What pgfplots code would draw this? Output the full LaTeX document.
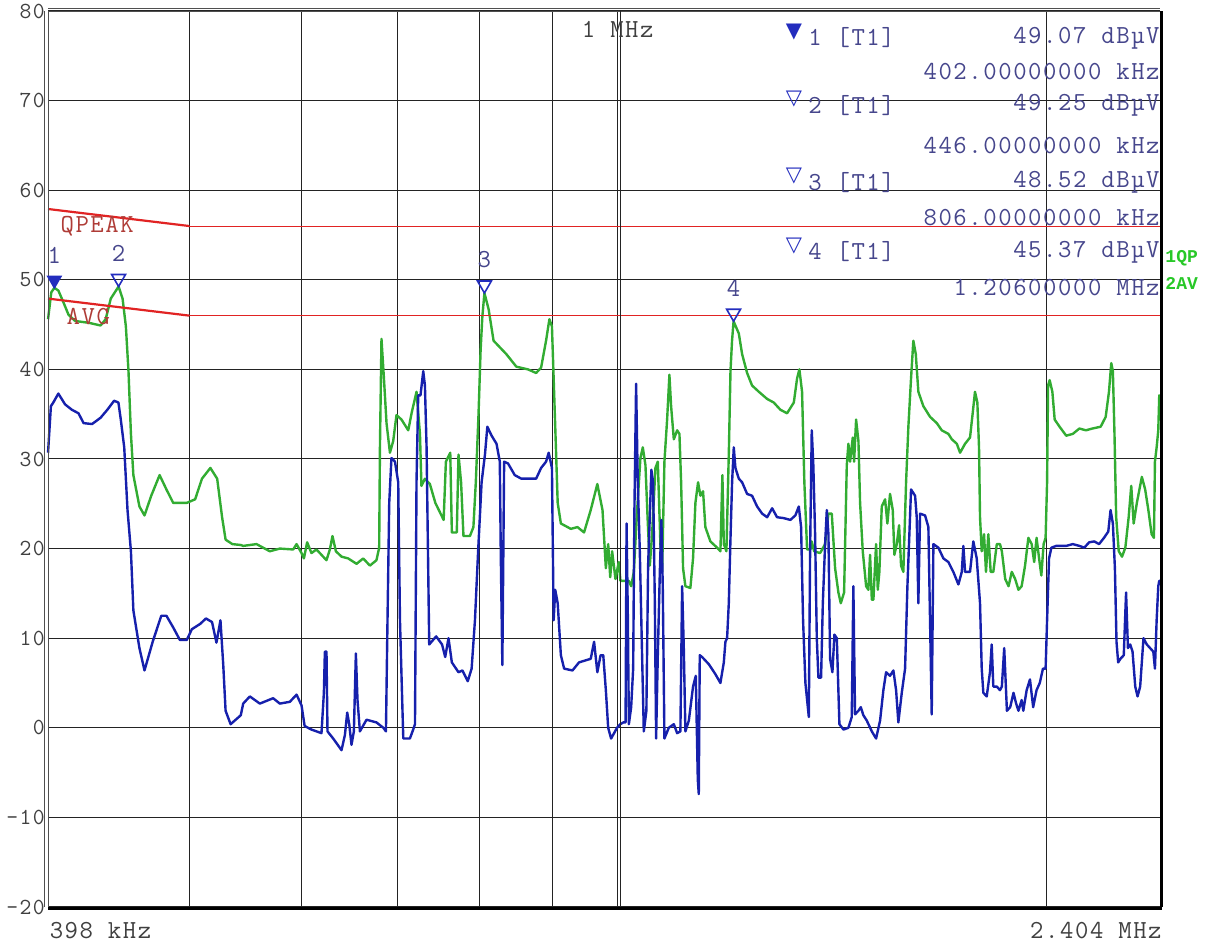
\documentclass[border=0pt]{standalone}
\usepackage{fontspec}
\usepackage{pgfplots}
\pgfplotsset{compat=1.18}
\usepackage{pgfplotstable}
\newfontfamily\cour[LetterSpace=6]{Latin Modern Mono}
\newfontfamily\lmono{Liberation Mono}
\newfontfamily\dvs{DejaVu Sans}
\newcommand{\mfont}{\cour\fontsize{13}{15}\selectfont}
\newcommand{\yfont}{\cour\fontsize{11.5}{13}\selectfont}
\definecolor{qp}{RGB}{50,172,50}
\definecolor{av}{RGB}{22,32,172}
\definecolor{lim}{RGB}{225,35,35}
\definecolor{lbl}{RGB}{175,60,55}
\definecolor{mk}{RGB}{35,45,190}
\definecolor{mtxt}{RGB}{70,70,140}
\definecolor{gridc}{RGB}{35,35,35}
\definecolor{trlbl}{RGB}{40,200,40}

\pgfplotstableread{
f db
398.0 45.6
400.0 48.6
402.0 49.1
404.6 48.8
407.9 47.5
411.3 46.1
415.8 45.4
425.0 45.2
433.2 44.9
436.8 45.6
440.4 47.9
446.0 49.25
448.9 47.9
451.3 44.8
453.2 39.8
455.0 32.8
456.8 28.2
461.3 24.7
465.1 23.7
470.2 25.9
476.6 28.2
481.9 26.6
487.2 25.1
498.0 25.1
504.8 25.5
510.4 27.8
517.4 29.0
523.1 27.8
527.3 23.5
530.3 21.0
536.1 20.5
543.5 20.4
545.6 20.3
557.5 20.5
569.6 19.7
578.9 20.0
591.6 19.9
594.8 20.5
599.6 19.5
601.9 18.9
605.1 20.7
609.3 19.5
614.3 19.9
619.3 19.3
624.3 18.7
627.7 19.9
630.4 21.4
633.9 19.7
639.7 19.1
646.6 18.9
655.4 18.3
662.5 18.9
669.7 18.1
676.9 18.7
679.9 20.1
680.7 31.3
682.4 43.4
685.1 39.0
688.0 34.0
691.8 30.7
695.5 32.0
699.2 34.9
704.9 34.4
712.6 33.2
716.4 35.1
722.2 37.5
726.2 32.8
728.0 27.0
732.1 27.8
738.0 27.2
744.5 25.1
754.6 23.2
757.4 29.7
762.7 30.7
764.7 21.8
770.9 21.8
772.9 30.5
776.2 27.4
779.2 21.4
787.5 21.4
791.8 22.4
795.0 27.4
798.5 35.1
801.0 42.1
803.3 45.9
806.0 48.52
811.5 46.7
818.0 43.2
835.1 41.7
848.7 40.3
864.8 40.0
876.3 39.6
883.4 40.2
890.5 43.2
895.3 45.6
899.0 44.8
901.5 39.0
903.8 33.6
907.4 25.1
912.1 22.8
926.9 22.2
936.9 22.4
946.9 21.8
957.2 24.3
967.5 27.2
975.6 24.3
980.9 17.8
984.6 20.5
987.9 16.8
990.9 19.7
996.3 16.6
1001.6 18.5
1004.3 16.4
1012.7 16.4
1018.1 16.4
1021.9 15.8
1026.3 17.4
1031.8 24.3
1037.3 30.1
1041.3 31.3
1045.8 29.3
1049.8 22.8
1053.2 18.1
1057.1 21.6
1062.8 29.0
1066.9 29.7
1071.4 20.5
1074.4 17.4
1078.4 29.7
1083.1 34.4
1087.1 39.4
1090.1 35.9
1094.9 32.2
1100.8 33.2
1104.9 32.8
1107.9 27.4
1111.4 17.8
1115.6 15.8
1124.6 15.6
1129.5 18.9
1133.8 25.1
1138.7 27.4
1143.0 25.9
1147.9 26.4
1152.2 22.4
1161.6 20.8
1174.3 20.1
1180.6 19.7
1184.4 28.2
1187.1 20.5
1192.1 19.7
1197.0 31.3
1200.0 39.8
1203.0 43.2
1206.0 45.37
1216.3 44.0
1222.8 41.7
1232.7 39.6
1242.6 38.2
1256.3 37.5
1273.3 36.7
1287.0 36.3
1300.8 35.5
1315.0 35.1
1329.4 36.3
1336.5 39.0
1341.5 40.0
1347.3 37.5
1352.3 27.4
1358.3 19.9
1365.6 19.9
1368.6 20.8
1373.8 19.7
1387.2 19.5
1398.5 20.5
1406.0 23.9
1413.7 23.9
1421.3 17.8
1428.9 15.1
1434.4 13.9
1442.1 15.1
1448.4 29.3
1452.2 31.7
1456.1 29.7
1462.5 32.4
1465.6 29.7
1470.4 34.4
1475.9 32.0
1479.9 25.1
1486.3 19.7
1494.4 15.8
1499.9 15.4
1504.0 19.3
1508.2 14.3
1512.1 14.3
1518.7 20.5
1522.9 15.4
1526.8 17.4
1532.7 24.7
1541.0 25.5
1546.7 22.8
1553.4 26.1
1560.3 24.3
1564.3 19.3
1570.4 20.5
1576.3 22.6
1581.3 18.1
1587.2 17.4
1594.2 27.4
1600.1 33.6
1607.1 39.0
1613.1 43.2
1619.4 41.7
1626.2 37.5
1639.4 35.9
1657.3 34.7
1675.4 34.0
1688.9 33.2
1707.1 32.8
1716.5 32.2
1730.5 31.7
1739.7 30.7
1753.9 31.7
1768.0 32.4
1775.6 35.1
1782.2 37.5
1789.0 36.3
1793.9 31.3
1796.8 23.5
1801.7 19.7
1808.5 21.6
1814.4 17.4
1821.1 21.6
1828.1 17.4
1835.9 17.4
1846.1 20.5
1855.9 20.5
1861.6 19.7
1871.6 16.6
1881.7 15.8
1891.7 17.4
1902.0 16.6
1912.0 15.4
1922.1 15.8
1932.6 18.1
1943.0 21.2
1953.3 20.5
1961.5 18.5
1968.8 21.2
1977.0 18.9
1984.3 17.0
1991.6 20.5
1998.0 21.2
2002.5 27.4
2005.7 38.2
2010.9 38.8
2019.7 37.5
2027.3 34.4
2043.4 33.6
2065.4 32.6
2087.6 32.8
2110.0 33.4
2132.3 33.2
2155.0 33.4
2183.8 33.6
2201.6 34.7
2213.4 37.5
2221.6 40.7
2227.4 39.8
2233.2 32.8
2239.3 23.5
2248.7 19.7
2260.6 19.1
2272.8 20.1
2285.0 23.5
2294.6 27.0
2303.6 22.8
2315.5 25.1
2334.2 28.0
2346.8 26.6
2359.0 24.3
2371.5 21.6
2380.4 21.2
2384.2 29.7
2390.8 31.3
2397.1 33.2
2400.9 37.1
2404.0 37.0
}\qpdata

\pgfplotstableread{
f db
398.0 30.7
399.8 35.9
401.3 36.3
404.6 37.3
409.0 36.1
413.5 35.5
418.0 35.1
421.5 34.0
427.3 33.9
433.2 34.6
438.0 35.5
442.8 36.5
445.9 36.3
447.6 34.4
450.1 31.3
452.5 24.3
455.0 19.7
456.8 13.1
461.3 8.9
465.1 6.4
471.5 9.7
477.9 12.5
481.9 12.5
487.2 11.2
492.5 9.8
498.0 9.8
502.1 11.0
509.0 11.6
513.7 12.2
518.8 11.8
522.5 9.5
525.9 12.0
528.3 7.0
530.3 1.9
534.6 0.4
543.5 1.4
545.6 2.7
551.5 3.5
560.5 2.7
572.7 3.3
578.9 2.7
588.4 2.9
594.8 3.7
599.6 2.5
602.6 0.2
609.3 -0.2
619.3 -0.6
621.7 3.9
622.7 8.5
624.3 8.5
625.3 -0.4
631.1 -1.2
639.7 -2.5
643.2 -0.8
645.6 1.7
647.7 0.4
650.1 -1.9
652.6 -0.4
654.7 8.3
656.4 3.1
659.0 -0.4
666.1 0.9
676.9 0.6
684.4 0.0
687.3 -0.4
688.8 10.0
691.0 25.1
693.5 30.1
697.4 29.7
701.1 27.4
703.1 12.0
706.0 1.9
706.9 -1.2
714.5 -1.2
717.6 -0.4
720.4 0.4
722.2 27.4
724.2 37.1
726.8 37.1
730.1 39.8
732.1 38.2
734.1 31.3
737.2 9.3
745.5 10.2
752.6 9.3
756.5 7.9
760.6 10.0
764.7 7.3
772.9 6.2
777.9 6.4
784.6 5.2
789.6 6.6
793.8 12.0
798.0 19.7
802.3 27.4
806.7 30.5
809.8 33.6
815.4 32.6
821.9 31.7
826.3 29.7
827.6 19.3
829.7 7.0
832.1 29.7
837.4 29.5
846.5 28.2
855.6 27.8
864.8 27.8
876.3 27.8
883.4 29.0
890.5 29.7
894.3 30.7
899.0 29.0
901.5 12.0
903.8 15.4
907.4 13.9
912.1 8.1
916.9 6.6
929.4 6.4
939.3 7.3
957.2 7.7
962.4 9.6
967.5 6.2
972.6 8.1
976.8 8.1
980.9 4.2
984.6 0.0
989.3 -1.2
998.8 0.0
1004.1 0.4
1009.1 0.6
1012.7 0.6
1014.3 22.8
1016.5 12.0
1018.1 0.4
1021.9 2.3
1025.2 6.6
1027.3 24.3
1030.1 38.4
1032.9 27.4
1036.3 19.7
1040.1 8.1
1043.0 -0.4
1047.4 1.9
1050.3 18.1
1053.2 23.6
1055.9 28.8
1058.8 27.4
1061.8 13.9
1064.0 -1.2
1066.9 8.1
1070.4 17.4
1073.1 23.2
1075.5 15.8
1078.4 -1.2
1086.0 0.0
1094.9 0.4
1100.8 -0.6
1106.6 -0.4
1109.7 15.8
1112.7 8.9
1115.6 -0.4
1121.8 0.8
1129.5 4.6
1134.5 5.8
1138.2 -5.8
1140.0 -7.4
1141.8 8.1
1146.1 7.9
1158.6 7.1
1170.9 6.0
1180.6 5.0
1187.1 7.3
1190.2 9.6
1193.4 10.0
1196.7 13.9
1199.8 20.8
1203.1 27.4
1206.4 31.3
1209.6 29.0
1216.3 27.8
1222.8 27.4
1232.7 26.1
1242.6 25.9
1252.8 24.7
1263.0 23.9
1273.3 23.5
1283.6 24.5
1293.9 23.5
1307.9 23.4
1322.0 23.2
1332.8 23.7
1340.2 24.7
1345.2 22.4
1349.5 12.0
1354.6 5.0
1362.1 1.2
1364.9 19.7
1368.6 33.2
1372.1 29.3
1376.0 21.6
1379.8 10.0
1383.4 5.6
1389.4 5.6
1393.3 13.9
1398.5 20.5
1402.3 24.3
1406.0 21.6
1409.8 7.7
1415.1 6.2
1419.7 10.4
1425.2 10.0
1431.2 0.4
1440.6 -0.2
1452.2 0.0
1460.1 1.2
1463.9 15.8
1467.9 1.5
1475.9 1.9
1481.6 2.3
1487.8 1.4
1496.1 0.8
1508.2 -0.4
1518.7 -1.2
1528.5 0.8
1536.7 4.2
1543.5 6.2
1553.4 5.8
1561.8 6.4
1568.6 4.2
1574.5 0.6
1583.1 3.9
1591.6 6.6
1597.6 15.8
1602.7 21.6
1607.1 26.6
1617.6 25.9
1622.0 23.5
1626.2 13.9
1630.7 23.9
1644.0 23.7
1652.8 22.4
1661.8 1.5
1666.2 20.5
1679.7 20.1
1693.4 18.9
1707.1 18.5
1720.9 17.4
1735.0 16.0
1744.5 17.4
1749.0 20.3
1753.9 17.4
1768.0 17.4
1777.5 20.8
1787.3 18.9
1796.8 13.9
1801.7 6.6
1806.5 3.9
1816.4 3.5
1826.1 6.2
1831.1 9.3
1835.9 4.6
1846.1 4.6
1855.9 4.2
1861.6 4.6
1868.6 8.9
1876.8 1.9
1886.8 2.3
1896.9 3.9
1904.9 2.7
1912.0 1.9
1922.1 3.1
1927.2 1.9
1937.6 4.2
1947.9 5.4
1958.3 2.3
1968.8 4.2
1979.3 5.0
1989.7 6.6
1998.0 6.6
2002.5 12.0
2008.9 18.9
2016.4 20.1
2032.5 20.3
2065.4 20.3
2087.6 20.5
2110.0 20.3
2126.8 20.1
2143.6 20.7
2161.2 20.8
2178.2 20.5
2195.7 21.2
2210.9 21.9
2219.1 24.3
2227.4 22.8
2234.7 17.8
2240.5 9.6
2246.6 7.3
2254.8 7.7
2267.0 8.1
2275.4 15.1
2282.4 8.9
2290.8 9.3
2299.4 8.5
2309.5 4.6
2318.1 3.5
2327.9 4.6
2340.4 10.0
2353.0 9.3
2365.4 8.9
2377.9 8.5
2384.2 6.6
2390.8 12.0
2397.1 15.8
2400.9 16.4
2404.0 16.4
}\avdata

\begin{document}
\begin{tikzpicture}
\begin{axis}[
  scale only axis, width=556pt, height=448pt,
  anchor=south west, at={(0,0)},
  xmode=log, xmin=398, xmax=2404, ymin=-20, ymax=80,
  xtick={500,600,700,800,900,1000,2000}, xticklabels={},
  minor xtick={},
  ytick={-20,-10,0,10,20,30,40,50,60,70,80},
  yticklabels={-20,-10,0,10,20,30,40,50,60,70,80},
  grid=major, major grid style={gridc, line width=0.5pt},
  major tick length=0pt, tick style={draw=none},
  axis line style={draw=none},
  yticklabel style={font=\yfont, text=black!75, inner sep=1.5pt},
  clip=false,
]
\addplot[qp, line width=1.2pt, line join=round] table[x=f,y=db]{\qpdata};
\addplot[av, line width=1.2pt, line join=round] table[x=f,y=db]{\avdata};
\addplot[lim, line width=1.1pt] coordinates {(398,57.9)(500,56)};
\addplot[lim, line width=0.5pt] coordinates {(500,56)(2404,56)};
\addplot[lim, line width=1.1pt] coordinates {(398,47.9)(500,46)};
\addplot[lim, line width=0.5pt] coordinates {(500,46)(2404,46)};
% markers
\addplot[only marks, mark=triangle*, mark size=4pt,
  mark options={yshift=4pt, rotate=180, draw=mk, fill=mk, line width=0.6pt},
  point meta=explicit symbolic, nodes near coords,
  every node near coord/.append style={anchor=south, yshift=8pt, font=\mfont, text=mtxt, inner sep=0pt}]
  coordinates {(402,49.07)[1]};
\addplot[only marks, mark=triangle, mark size=4pt,
  mark options={yshift=4pt, rotate=180, draw=mk, line width=0.8pt},
  point meta=explicit symbolic, nodes near coords,
  every node near coord/.append style={anchor=south, yshift=8pt, font=\mfont, text=mtxt, inner sep=0pt}]
  coordinates {(446,49.25)[2] (806,48.52)[3] (1206,45.37)[4]};
% frame
\draw[gridc!80, line width=0.45pt] ([xshift=-1.6pt]rel axis cs:0,0) -- ([xshift=-1.6pt]rel axis cs:0,1);
\draw[gridc!80, line width=0.45pt] (rel axis cs:0,0) -- (rel axis cs:0,1);
\draw[gridc!80, line width=0.45pt] ([yshift=1.4pt]rel axis cs:0,1) -- ([yshift=1.4pt]rel axis cs:1,1);
\draw[gridc!80, line width=0.45pt] (rel axis cs:0,1) -- (rel axis cs:1,1);
\draw[gridc, line width=0.45pt] ([xshift=1.3pt]axis cs:1000,-20) -- ([xshift=1.3pt]axis cs:1000,80);
\draw[black, line width=1.6pt] ([yshift=-0.8pt]rel axis cs:0,0) -- ([yshift=-0.8pt,xshift=0.8pt]rel axis cs:1,0);
\draw[black, line width=1.6pt] ([xshift=0.8pt]rel axis cs:1,0) -- ([xshift=0.8pt]rel axis cs:1,1);
% texts
\node[font=\mfont, text=black!75] at (axis cs:1000,77.9) {1 MHz};
\node[anchor=west, font=\mfont, text=black!75, inner sep=0pt] at (axis cs:398.8,-22.6) {398 kHz};
\node[anchor=east, font=\mfont, text=black!75, inner sep=0pt] at ([xshift=1pt]axis cs:2404,-22.6) {2.404 MHz};
\node[anchor=west, font=\mfont, text=lbl, inner sep=0pt] at (axis cs:405.8,56.0) {QPEAK};
\node[anchor=west, font=\mfont, text=lbl, inner sep=0pt] at (axis cs:409.8,45.85) {AVG};
% marker table
\node[font=\dvs\fontsize{10.5}{11}\selectfont, text=mk, inner sep=0pt] at (axis cs:1330,77.7) {▼};
\node[font=\dvs\fontsize{10.5}{11}\selectfont, text=mk, inner sep=0pt] at (axis cs:1330,70.2) {▽};
\node[font=\dvs\fontsize{10.5}{11}\selectfont, text=mk, inner sep=0pt] at (axis cs:1330,61.6) {▽};
\node[font=\dvs\fontsize{10.5}{11}\selectfont, text=mk, inner sep=0pt] at (axis cs:1330,53.8) {▽};
\node[anchor=west, font=\mfont, text=mtxt, inner sep=0pt] at (axis cs:1360,77.0) {1 [T1]};
\node[anchor=west, font=\mfont, text=mtxt, inner sep=0pt] at (axis cs:1360,69.5) {2 [T1]};
\node[anchor=west, font=\mfont, text=mtxt, inner sep=0pt] at (axis cs:1360,60.9) {3 [T1]};
\node[anchor=west, font=\mfont, text=mtxt, inner sep=0pt] at (axis cs:1360,53.1) {4 [T1]};
\node[anchor=east, font=\mfont, text=mtxt, inner sep=0pt] at (axis cs:2404,77.0) {49.07 dBµV};
\node[anchor=east, font=\mfont, text=mtxt, inner sep=0pt] at (axis cs:2404,73.2) {402.00000000 kHz};
\node[anchor=east, font=\mfont, text=mtxt, inner sep=0pt] at (axis cs:2404,69.5) {49.25 dBµV};
\node[anchor=east, font=\mfont, text=mtxt, inner sep=0pt] at (axis cs:2404,65.0) {446.00000000 kHz};
\node[anchor=east, font=\mfont, text=mtxt, inner sep=0pt] at (axis cs:2404,60.9) {48.52 dBµV};
\node[anchor=east, font=\mfont, text=mtxt, inner sep=0pt] at (axis cs:2404,57.0) {806.00000000 kHz};
\node[anchor=east, font=\mfont, text=mtxt, inner sep=0pt] at (axis cs:2404,53.1) {45.37 dBµV};
\node[anchor=east, font=\mfont, text=mtxt, inner sep=0pt] at (axis cs:2404,49.1) {1.20600000 MHz};
\node[anchor=west, font=\lmono\bfseries\fontsize{9}{10}\selectfont, text=trlbl, inner sep=0pt] at ([xshift=2.5pt]axis cs:2404,52.4) {1QP};
\node[anchor=west, font=\lmono\bfseries\fontsize{9}{10}\selectfont, text=trlbl, inner sep=0pt] at ([xshift=2.5pt]axis cs:2404,49.6) {2AV};
\coordinate (sw) at (rel axis cs:0,0);
\coordinate (ne) at (rel axis cs:1,1);
\end{axis}
\pgfresetboundingbox
\path[use as bounding box] ([shift={(-24pt,-18.5pt)}]sw) rectangle ([shift={(30.5pt,5.5pt)}]ne);
\end{tikzpicture}
\end{document}
